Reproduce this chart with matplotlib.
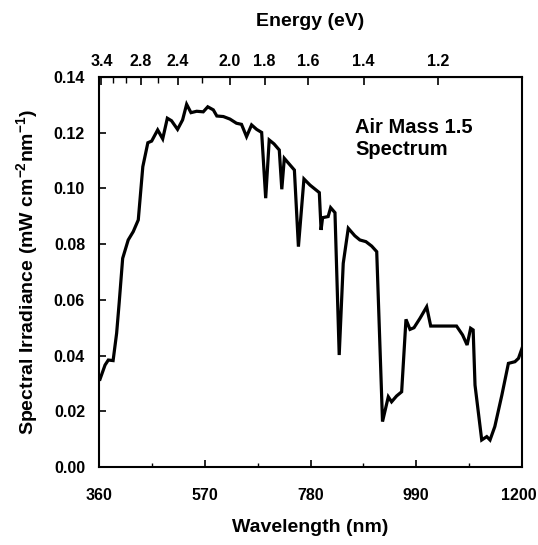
import matplotlib
matplotlib.use("Agg")
import matplotlib.pyplot as plt
from matplotlib.transforms import ScaledTranslation

# ---- data ----
wavelength_nm = [362, 372, 378.5, 388, 395, 400, 407, 418, 428, 438, 447, 457, 464.6,
                 476.5, 486.5, 495.7, 504, 516, 526, 534, 542.7, 554, 567, 576, 587,
                 594, 607, 620, 633, 643, 653, 663, 673, 683, 691, 698, 707.5, 718,
                 723, 728, 738, 748, 756, 767, 779, 797.5, 801, 804, 815, 820, 828.6,
                 837, 845, 855, 868, 878, 890, 901.5, 911.5, 923, 934.5, 941, 951, 961,
                 969.6, 977.6, 985.5, 997.5, 1010.7, 1018.7, 1037, 1070, 1082, 1091,
                 1098, 1103, 1106.7, 1120, 1130, 1136.5, 1146, 1160, 1173, 1186, 1193, 1200]
irradiance = [0.0315, 0.0366, 0.0384, 0.0382, 0.0480, 0.0588, 0.0749, 0.0815, 0.0845,
              0.0887, 0.1078, 0.1164, 0.1170, 0.1210, 0.1178, 0.1252, 0.1243, 0.1212,
              0.1246, 0.1302, 0.1272, 0.1277, 0.1275, 0.1293, 0.1282, 0.1260, 0.1258,
              0.1249, 0.1234, 0.1230, 0.1186, 0.1228, 0.1212, 0.1201, 0.0965, 0.1174,
              0.1160, 0.1138, 0.0997, 0.1108, 0.1087, 0.1066, 0.0791, 0.1034, 0.1012,
              0.0985, 0.0851, 0.0895, 0.0899, 0.0931, 0.0913, 0.0402, 0.0731, 0.0857,
              0.0830, 0.0815, 0.0809, 0.0793, 0.0773, 0.0163, 0.0252, 0.0234, 0.0255,
              0.0270, 0.0530, 0.0494, 0.0500, 0.0534, 0.0575, 0.0506, 0.0506, 0.0506,
              0.0474, 0.0438, 0.0498, 0.0492, 0.0294, 0.0097, 0.0109, 0.0097, 0.0145,
              0.0258, 0.0372, 0.0378, 0.0390, 0.0426]

x_major_ticks = [360, 570, 780, 990, 1200]
x_minor_ticks = [465, 675, 885, 1095]
y_ticks = [0.00, 0.02, 0.04, 0.06, 0.08, 0.10, 0.12, 0.14]
energy_major_ticks = [3.4, 2.8, 2.4, 2.0, 1.8, 1.6, 1.4, 1.2]
energy_minor_ticks = [3.2, 3.0, 2.6, 2.2]

# ---- font ----
fam = "Liberation Sans"
plt.rcParams['font.family'] = [fam, 'DejaVu Sans']
plt.rcParams['font.weight'] = 'bold'
plt.rcParams['mathtext.fontset'] = 'custom'
plt.rcParams['mathtext.rm'] = fam + ':bold'
plt.rcParams['mathtext.default'] = 'rm'

fig = plt.figure(figsize=(5.38, 5.45), dpi=100)
ax = fig.add_axes([99/538, 1 - 467/545, 423/538, 390/545])

ax.plot(wavelength_nm, irradiance, color='black', lw=2.3, solid_joinstyle='miter')

ax.set_xlim(360, 1200)
ax.set_ylim(0, 0.14)
ax.set_xticks(x_major_ticks)
ax.set_xticks(x_minor_ticks, minor=True)
ax.set_yticks(y_ticks)
ax.set_xticklabels([str(v) for v in x_major_ticks], fontsize=11.5, fontweight='bold')
ax.set_yticklabels([f"{v:.2f}" for v in y_ticks], fontsize=11.5, fontweight='bold')
ax.tick_params(axis='y', which='major', direction='in', length=5, width=1.2, pad=10)
ax.tick_params(axis='x', which='major', direction='in', length=5, width=1.2, pad=15)
ax.tick_params(axis='x', which='minor', direction='in', length=3, width=1.0)
for s in ax.spines.values():
    s.set_linewidth(1.5)

# keep the last bottom label inside the canvas
last = ax.get_xticklabels()[-1]
last.set_transform(last.get_transform() + ScaledTranslation(-3/100, 0, fig.dpi_scale_trans))

ax.set_xlabel("Wavelength (nm)", fontsize=14, fontweight='bold', labelpad=12)
ax.set_ylabel(r"Spectral Irradiance (mW cm$^{-2}$nm$^{-1}$)", fontsize=14,
              fontweight='bold', labelpad=10)

sec = ax.secondary_xaxis('top', functions=(lambda x: 1240.0 / x, lambda e: 1240.0 / e))
sec.set_xticks(energy_major_ticks)
sec.set_xticks(energy_minor_ticks, minor=True)
sec.set_xticklabels([f"{v:.1f}" for v in energy_major_ticks], fontsize=11.5, fontweight='bold')
sec.tick_params(axis='x', which='major', direction='in', length=6, width=1.2, pad=6)
sec.tick_params(axis='x', which='minor', direction='in', length=4, width=1.0)
sec.set_xlabel("Energy (eV)", fontsize=14, fontweight='bold', labelpad=20)

ax.text(0.605, 0.895, "Air Mass 1.5\nSpectrum", transform=ax.transAxes,
        fontsize=14.5, fontweight='bold', va='top', ha='left', linespacing=1.2)

fig.savefig("out.png", dpi=100)
